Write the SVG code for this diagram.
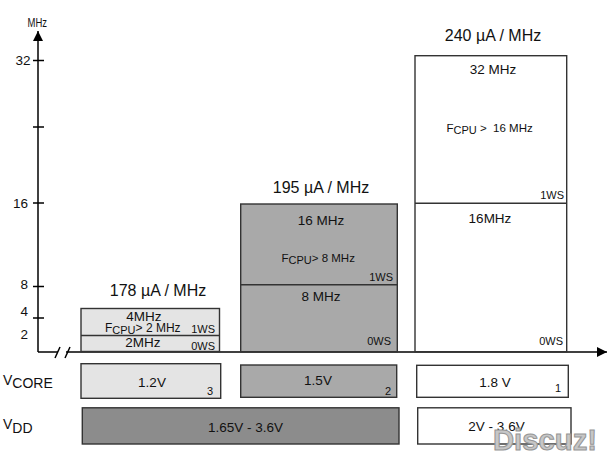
<svg xmlns="http://www.w3.org/2000/svg" width="614" height="463" viewBox="0 0 614 463">
<style>
text{font-family:"Liberation Sans",Arial,sans-serif;fill:#111}
.box{stroke:#333;stroke-width:1.4}
.light{fill:#e4e4e4}
.mid{fill:#a9a9a9}
.dark{fill:#8c8c8c}
.white{fill:#fff}
.ax{stroke:#000;stroke-width:1.5;fill:none}
.title{font-size:16px;text-anchor:middle}
.freq{font-size:13.5px;text-anchor:middle}
.ws{font-size:11px;text-anchor:end}
.tick{font-size:13.5px;text-anchor:end}
.volt{font-size:13.5px;text-anchor:middle}
.num{font-size:11px;text-anchor:middle}
</style>
<defs>
<marker id="arr" viewBox="0 0 10 10" refX="10" refY="5" markerWidth="10" markerHeight="10" markerUnits="userSpaceOnUse" orient="auto">
<path d="M0,0 L10,5 L0,10 z" fill="#000"/>
</marker>
</defs>

<g id="connectors">
<line class="ax" x1="38" y1="352" x2="38" y2="31" marker-end="url(#arr)"/>
<line class="ax" x1="38" y1="352" x2="58" y2="352"/>
<line class="ax" x1="66" y1="352" x2="607" y2="352" marker-end="url(#arr)"/>
<line class="ax" x1="55" y1="358" x2="60" y2="347"/>
<line class="ax" x1="65" y1="358" x2="70" y2="347"/>
<line class="ax" x1="33" y1="60.5" x2="44" y2="60.5"/>
<line class="ax" x1="33" y1="127" x2="44" y2="127"/>
<line class="ax" x1="33" y1="203" x2="44" y2="203"/>
<line class="ax" x1="33" y1="286.5" x2="44" y2="286.5"/>
<line class="ax" x1="33" y1="318" x2="44" y2="318"/>
</g>

<g id="axis-labels">
<text x="27.5" y="27" font-size="12" textLength="19.5" lengthAdjust="spacingAndGlyphs">MHz</text>
<text class="tick" x="30.5" y="65">32</text>
<text class="tick" x="28" y="208">16</text>
<text class="tick" x="28" y="289">8</text>
<text class="tick" x="28" y="316">4</text>
<text class="tick" x="28" y="339">2</text>
<text x="3" y="385" font-size="14">V<tspan dy="3">CORE</tspan></text>
<text x="3" y="429" font-size="14">V<tspan dy="4">DD</tspan></text>
</g>

<g id="range1">
<text class="title" x="158" y="296">178 µA / MHz</text>
<rect class="box light" x="81" y="308.5" width="138.5" height="43"/>
<line class="box" x1="81" y1="335.5" x2="219.5" y2="335.5"/>
<text class="freq" x="144" y="320.5">4MHz</text>
<text x="105" y="331.5" font-size="12">F<tspan font-size="11" dy="2.5">CPU</tspan><tspan dy="-2.5">&gt; 2 MHz</tspan></text>
<text class="ws" x="215" y="333">1WS</text>
<text class="freq" x="143" y="347">2MHz</text>
<text class="ws" x="215" y="349.5">0WS</text>
</g>

<g id="range2">
<text class="title" x="321" y="193">195 µA / MHz</text>
<rect class="box mid" x="240.7" y="204" width="156.6" height="147.7"/>
<line class="box" x1="240.7" y1="284.7" x2="397.3" y2="284.7"/>
<text class="freq" x="321" y="225">16 MHz</text>
<text x="281.5" y="261.5" font-size="11.5">F<tspan font-size="11" dy="2.5">CPU</tspan><tspan dy="-2.5">&gt; 8 MHz</tspan></text>
<text class="ws" x="393" y="281">1WS</text>
<text class="freq" x="321" y="301">8 MHz</text>
<text class="ws" x="391" y="344.5">0WS</text>
</g>

<g id="range3">
<text class="title" x="493" y="41">240 µA / MHz</text>
<rect class="box white" x="415" y="55.7" width="151.7" height="296"/>
<line class="box" x1="415" y1="203.3" x2="566.7" y2="203.3"/>
<text class="freq" x="493" y="73.5">32 MHz</text>
<text x="446.5" y="131.5" font-size="11.5">F<tspan font-size="11" dy="2.5">CPU</tspan><tspan dy="-2.5" xml:space="preserve"> &gt;  16 MHz</tspan></text>
<text class="ws" x="564" y="198.5">1WS</text>
<text class="freq" x="490" y="222.5">16MHz</text>
<text class="ws" x="563" y="344.5">0WS</text>
</g>

<g id="vcore1">
<rect class="box light" x="81" y="363.7" width="139.7" height="34.6"/>
<text class="volt" x="152" y="386.5">1.2V</text>
<text class="num" x="210" y="394.5">3</text>
</g>
<g id="vcore2">
<rect class="box mid" x="240.7" y="365" width="156" height="32.3"/>
<text class="volt" x="318" y="384.5">1.5V</text>
<text class="num" x="388" y="394.5">2</text>
</g>
<g id="vcore3">
<rect class="box white" x="416.7" y="365.3" width="151.6" height="32"/>
<text class="volt" x="495" y="386.5">1.8 V</text>
<text class="num" x="558" y="392">1</text>
</g>

<g id="vdd1">
<rect class="box dark" x="82.3" y="407.8" width="316.7" height="36.2"/>
<text x="208" y="431.5" font-size="13.5">1.65V - 3.6V</text>
</g>
<g id="vdd2">
<rect class="box white" x="417.7" y="407.8" width="153.3" height="36.2"/>
<text class="volt" x="496.5" y="431">2V - 3.6V</text>
</g>

<text x="493" y="450" font-size="29" font-weight="bold" style="fill:#c6c6c6;stroke:#959595;stroke-width:1" textLength="104" lengthAdjust="spacingAndGlyphs">Discuz!</text>
</svg>
